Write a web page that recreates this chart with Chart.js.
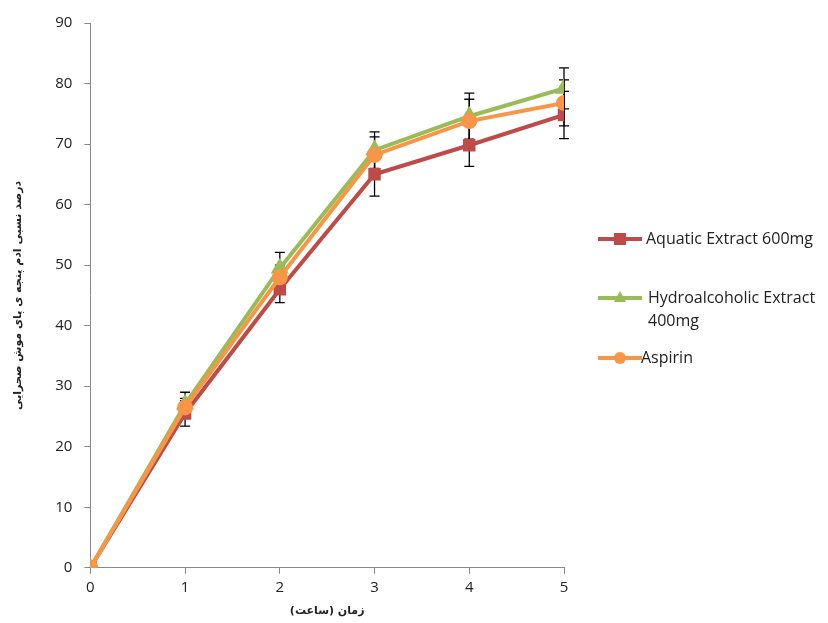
<!DOCTYPE html>
<html><head><meta charset="utf-8">
<script src="https://cdn.jsdelivr.net/npm/chart.js@4.4.0/dist/chart.umd.min.js"></script>
<style>
html,body{margin:0;padding:0;background:#fff;}
#wrap{position:relative;width:828px;height:623px;}
#legend{position:absolute;left:598px;top:227px;font-family:"Open Sans",sans-serif;font-size:16px;color:#222;}
.item{position:absolute;left:0;white-space:nowrap;line-height:23px;}
.icon{position:absolute;left:0;top:8px;width:44px;height:8px;}
.icon .ln{position:absolute;left:0;top:2px;width:44px;height:4px;}
.icon .mk{position:absolute;}
.txt{position:absolute;left:48px;top:0;}
</style></head>
<body><div id="wrap"><canvas id="c" width="828" height="623"></canvas>
<div id="legend">
 <div class="item" style="top:0"><div class="icon"><div class="ln" style="background:#BE4B48"></div><div class="mk" style="left:16px;top:-2px;width:12px;height:12px;background:#BE4B48"></div></div><div class="txt">Aquatic Extract 600mg</div></div>
 <div class="item" style="top:59px"><div class="icon"><div class="ln" style="background:#9BBB59"></div><div class="mk" style="left:16px;top:-3px;width:0;height:0;border-left:6px solid transparent;border-right:6px solid transparent;border-bottom:11px solid #9BBB59"></div></div><div class="txt" style="left:50px">Hydroalcoholic Extract<br>400mg</div></div>
 <div class="item" style="top:119px"><div class="icon"><div class="ln" style="background:#F79646"></div><div class="mk" style="left:16px;top:-2px;width:12px;height:12px;border-radius:6px;background:#F79646"></div></div><div class="txt" style="left:43px">Aspirin</div></div>
</div></div>
<script>
const hours = [0, 1, 2, 3, 4, 5];
const yTicks = [0, 10, 20, 30, 40, 50, 60, 70, 80, 90];
const aquatic = [0, 25.5, 46, 65, 69.8, 74.8];
const hydro = [0, 27, 49.5, 69, 74.6, 79.2];
const aspirin = [0, 26.5, 48, 68.2, 73.8, 76.8];
const aquaticErr = [0, 2.1, 2.2, 3.6, 3.5, 3.9];
const hydroErr = [0, 2.0, 2.6, 3.0, 3.8, 3.4];
const aspirinErr = [0, 1.5, 2.0, 3.0, 3.6, 3.8];
const xTitle = "زمان (ساعت)";
const yTitle = "درصد نسبی ادم پنجه ی پای موش صحرایی";

function pts(arr){ return hours.map((h,i)=>({x:h,y:arr[i]})); }

const errPlugin = {
  id:'errbars',
  beforeDatasetsDraw(chart){
    const ctx = chart.ctx, xs = chart.scales.x, ys = chart.scales.y;
    ctx.save(); ctx.strokeStyle = '#000'; ctx.lineWidth = 1.3;
    chart.data.datasets.forEach(ds=>{
      ds.errors.forEach((e,i)=>{
        if(!e) return;
        const v = ds.data[i].y, px = xs.getPixelForValue(ds.data[i].x);
        const top = ys.getPixelForValue(v+e), bot = ys.getPixelForValue(v-e);
        ctx.beginPath();
        ctx.moveTo(px, top); ctx.lineTo(px, bot);
        ctx.moveTo(px-5, top); ctx.lineTo(px+5, top);
        ctx.moveTo(px-5, bot); ctx.lineTo(px+5, bot);
        ctx.stroke();
      });
    });
    ctx.restore();
  }
};

new Chart(document.getElementById('c'), {
  type:'line',
  data:{datasets:[
    {label:'Aquatic Extract 600mg', data:pts(aquatic), errors:aquaticErr, borderColor:'#BE4B48', backgroundColor:'#BE4B48', pointStyle:'rect', pointRadius:6, borderWidth:4, order:3},
    {label:'Hydroalcoholic Extract 400mg', data:pts(hydro), errors:hydroErr, borderColor:'#9BBB59', backgroundColor:'#9BBB59', pointStyle:'triangle', pointRadius:6.5, borderWidth:4, order:2},
    {label:'Aspirin', data:pts(aspirin), errors:aspirinErr, borderColor:'#F79646', backgroundColor:'#F79646', pointStyle:'circle', pointRadius:6, borderWidth:4, order:1}
  ]},
  options:{
    responsive:false, animation:false,
    layout:{padding:{left:8, right:264, top:23, bottom:1}},
    plugins:{legend:{display:false}, tooltip:{enabled:false}},
    elements:{line:{tension:0}, point:{borderWidth:1}},
    scales:{
      x:{type:'linear', min:0, max:5, offset:false,
        afterBuildTicks(s){ s.ticks = hours.map(v=>({value:v})); },
        grid:{drawOnChartArea:false, drawTicks:true, tickLength:6, color:'#888'},
        border:{color:'#888', width:1},
        ticks:{color:'#222', font:{family:'Open Sans', size:15}, padding:5},
        title:{display:true, text:xTitle, color:'#222', font:{family:'DejaVu Sans', size:11, weight:'bold'}, padding:{top:3}}
      },
      y:{type:'linear', min:0, max:90,
        afterBuildTicks(s){ s.ticks = yTicks.map(v=>({value:v})); },
        grid:{drawOnChartArea:false, drawTicks:true, tickLength:6, color:'#888'},
        border:{color:'#888', width:1},
        ticks:{color:'#222', font:{family:'Open Sans', size:15}, padding:12},
        title:{display:true, text:yTitle, color:'#222', font:{family:'DejaVu Sans', size:11, weight:'bold'}, padding:{bottom:18}}
      }
    }
  },
  plugins:[errPlugin]
});
</script></body></html>
